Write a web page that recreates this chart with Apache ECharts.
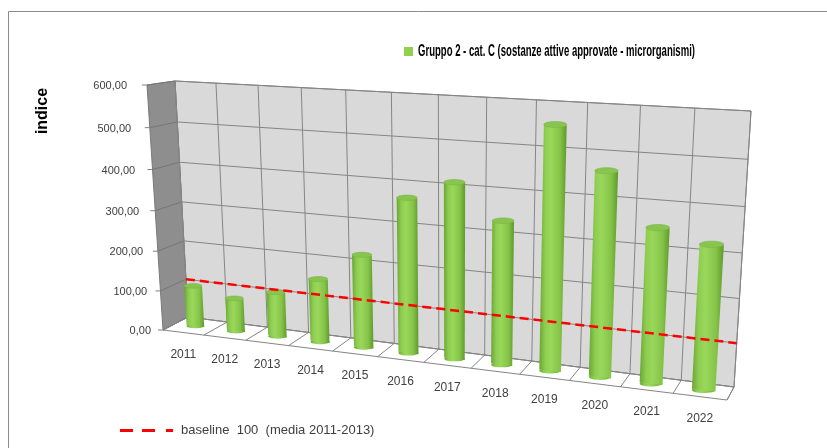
<!DOCTYPE html>
<html>
<head>
<meta charset="utf-8">
<script src="https://cdn.jsdelivr.net/npm/echarts@6/dist/echarts.min.js"></script>
<style>
  html, body { margin: 0; padding: 0; background: #ffffff; }
  #chart { width: 827px; height: 448px; }
</style>
</head>
<body>
<div id="chart"></div>
<script>
// ---- data ----
const categories = ['2011', '2012', '2013', '2014', '2015', '2016', '2017', '2018', '2019', '2020', '2021', '2022'];
const indexValues = [104, 84, 112, 156, 226, 370, 414, 336, 556, 464, 350, 324];
const baselineValue = 100;
const valueTicks = [0, 100, 200, 300, 400, 500, 600];
const seriesName = 'Gruppo 2 - cat. C (sostanze attive approvate - microrganismi)';
const baselineName = 'baseline  100  (media 2011-2013)';
const axisTitle = 'indice';

// ---- 3D box geometry (screen corners of the back wall and of the front plane) ----
const BACK_PLANE = { bl: [188, 317], br: [734, 387], tl: [175, 81], tr: [751, 111] };
const FRONT_PLANE = { bl: [163, 330], br: [727, 400], tl: [147, 85], tr: [744, 117] };
const BAR_RATIO = 0.44;   // cylinder diameter as share of a category slot
const BAR_DEPTH = 0.5;    // cylinders stand halfway between front and back

function solveHomography(dst) {
  const src = [[0, 0], [1, 0], [0, 1], [1, 1]];
  const pts = [dst.bl, dst.br, dst.tl, dst.tr];
  const A = [], b = [];
  for (let k = 0; k < 4; k++) {
    const [u, w] = src[k], [x, y] = pts[k];
    A.push([u, w, 1, 0, 0, 0, -u * x, -w * x]); b.push(x);
    A.push([0, 0, 0, u, w, 1, -u * y, -w * y]); b.push(y);
  }
  const n = 8;
  for (let c = 0; c < n; c++) {
    let p = c;
    for (let r = c + 1; r < n; r++) if (Math.abs(A[r][c]) > Math.abs(A[p][c])) p = r;
    [A[c], A[p]] = [A[p], A[c]]; [b[c], b[p]] = [b[p], b[c]];
    for (let r = 0; r < n; r++) {
      if (r === c) continue;
      const f = A[r][c] / A[c][c];
      for (let k = c; k < n; k++) A[r][k] -= f * A[c][k];
      b[r] -= f * b[c];
    }
  }
  const h = b.map((v, i) => v / A[i][i]);
  return (u, w) => {
    const den = h[6] * u + h[7] * w + 1;
    return [(h[0] * u + h[1] * w + h[2]) / den, (h[3] * u + h[4] * w + h[5]) / den];
  };
}
const backMap = solveHomography(BACK_PLANE);
const frontMap = solveHomography(FRONT_PLANE);
// u: 0..1 across categories, w: 0..1 along the value axis, d: 0 front .. 1 back
function project(u, w, d) {
  const f = frontMap(u, w), k = backMap(u, w);
  return [f[0] + (k[0] - f[0]) * d, f[1] + (k[1] - f[1]) * d];
}

// helpers turning the flat cartesian grid into normalised box coordinates
function boxScale(params, api) {
  const cs = params.coordSys;
  const band = api.size([1, 0])[0];
  return {
    uCenter: i => (api.coord([i, 0])[0] - cs.x) / cs.width,
    uEdge: k => (api.coord([Math.min(k, categories.length - 1), 0])[0] + (k < categories.length ? -band / 2 : band / 2) - cs.x) / cs.width,
    w: v => (cs.y + cs.height - api.coord([0, v])[1]) / cs.height,
    halfBar: band * BAR_RATIO / 2 / cs.width
  };
}

const GRID_STROKE = '#858585';
const LABEL_FONT = '"Liberation Sans", Arial, sans-serif';
const TITLE_FONT = '"Liberation Sans Narrow", "Liberation Sans", Arial, sans-serif';

function renderFrame(params, api) {
  const s = boxScale(params, api);
  const kids = [];
  const line = (a, b, stroke, width) => kids.push({
    type: 'line', shape: { x1: a[0], y1: a[1], x2: b[0], y2: b[1] },
    style: { stroke: stroke || GRID_STROKE, lineWidth: width || 1 }
  });
  const poly = (pts, fill, stroke) => kids.push({
    type: 'polygon', shape: { points: pts }, style: { fill, stroke: stroke || GRID_STROKE, lineWidth: 1 }
  });
  // walls and floor
  poly([project(0, 0, 1), project(1, 0, 1), project(1, 1, 1), project(0, 1, 1)], '#d9d9d9');
  poly([project(0, 0, 0), project(0, 0, 1), project(0, 1, 1), project(0, 1, 0)], '#8e8e8e', '#7a7a7a');
  poly([project(0, 0, 0), project(1, 0, 0), project(1, 0, 1), project(0, 0, 1)], '#ffffff');
  // value grid lines on back and side walls, ticks and labels
  valueTicks.forEach(v => {
    const w = s.w(v);
    line(project(0, w, 1), project(1, w, 1));
    line(project(0, w, 0), project(0, w, 1), '#767676');
    const e = project(0, w, 0);
    line([e[0] - 5, e[1]], e, '#808080');
    kids.push({
      type: 'text',
      style: {
        text: v.toFixed(2).replace('.', ','), x: e[0] - 12 - 8 * w, y: e[1] + 1,
        align: 'right', verticalAlign: 'middle', fill: '#404040',
        fontSize: 11, fontFamily: LABEL_FONT
      }
    });
  });
  // category separators on back wall and floor
  for (let k = 0; k <= categories.length; k++) {
    const u = s.uEdge(k);
    line(project(u, 0, 1), project(u, 1, 1));
    line(project(u, 0, 0), project(u, 0, 1));
  }
  // category labels along the front edge of the floor
  categories.forEach((c, i) => {
    const p = project(s.uCenter(i), 0, 0);
    kids.push({
      type: 'text',
      style: {
        text: c, x: p[0], y: p[1] + 22, align: 'center', verticalAlign: 'middle',
        fill: '#404040', fontSize: 12, fontFamily: LABEL_FONT
      }
    });
  });
  return { type: 'group', children: kids };
}

function renderCylinder(params, api) {
  const s = boxScale(params, api);
  const i = api.value(0), v = api.value(1);
  const uc = s.uCenter(i), r = s.halfBar, w = s.w(v), d = BAR_DEPTH;
  const bl = project(uc - r, 0, d), br = project(uc + r, 0, d);
  const tl = project(uc - r, w, d), tr = project(uc + r, w, d);
  const bc = project(uc, 0, d), tc = project(uc, w, d);
  const rxB = (br[0] - bl[0]) / 2, rxT = (tr[0] - tl[0]) / 2;
  const ryB = rxB * 0.26, ryT = rxT * 0.26;
  const bodyFill = new echarts.graphic.LinearGradient(0, 0, 1, 0, [
    { offset: 0, color: '#6aa633' },
    { offset: 0.22, color: '#8fcd52' },
    { offset: 0.42, color: '#9ad85c' },
    { offset: 0.75, color: '#86c449' },
    { offset: 1, color: '#5f9a2b' }
  ]);
  return {
    type: 'group',
    children: [
      { type: 'ellipse', shape: { cx: bc[0], cy: bc[1], rx: rxB, ry: ryB },
        style: { fill: bodyFill } },
      { type: 'polygon', shape: { points: [bl, br, tr, tl] }, style: { fill: bodyFill } },
      { type: 'ellipse', shape: { cx: tc[0], cy: tc[1], rx: rxT, ry: ryT },
        style: { fill: '#88c450', stroke: '#7bb541', lineWidth: 0.6 } }
    ]
  };
}

function renderBaseline(params, api) {
  const s = boxScale(params, api);
  const w = s.w(api.value(1));
  const a = project(0, w, 1), b = project(1, w, 1);
  return {
    type: 'line', shape: { x1: a[0], y1: a[1], x2: b[0], y2: b[1] },
    style: { stroke: '#ff0000', lineWidth: 2.5, lineDash: [9, 5] }
  };
}

// the series title is set in a compressed face: measure it and squeeze it to its slot
const TITLE_SIZE = 16;
const TITLE_WIDTH = 277;
const measureCtx = document.createElement('canvas').getContext('2d');
measureCtx.font = 'bold ' + TITLE_SIZE + 'px ' + TITLE_FONT;
const titleScaleX = Math.min(1, TITLE_WIDTH / measureCtx.measureText(seriesName).width);

const chart = echarts.init(document.getElementById('chart'), null, { renderer: 'canvas' });
chart.setOption({
  animation: false,
  backgroundColor: '#ffffff',
  grid: { left: 175, top: 81, width: 576, height: 236 },
  xAxis: { type: 'category', data: categories, show: false },
  yAxis: { type: 'value', min: 0, max: 600, interval: 100, show: false },
  legend: {
    data: [{ name: baselineName, icon: 'path://M0,0H13V3H0Z M22,0H35V3H22Z M46,0H53V3H46Z' }],
    left: 115, top: 419, itemWidth: 53, itemHeight: 3, selectedMode: false,
    textStyle: { fontFamily: LABEL_FONT, fontSize: 13, color: '#404040', padding: [0, 0, 0, 3] }
  },
  graphic: [
    { type: 'rect', shape: { x: 8.5, y: 11.5, width: 900, height: 500 },
      style: { fill: 'none', stroke: '#8c8c8c', lineWidth: 1 }, z: -1 },
    { type: 'rect', shape: { x: 404, y: 47, width: 9, height: 9 }, style: { fill: '#92d050' } },
    { type: 'text', x: 418, y: 52, scaleX: titleScaleX,
      style: { text: seriesName, fontSize: TITLE_SIZE, fontWeight: 'bold', fontFamily: TITLE_FONT,
               fill: '#000000', align: 'left', verticalAlign: 'middle' } },
    { type: 'text', x: 43, y: 111, rotation: Math.PI / 2,
      style: { text: axisTitle, fontSize: 16, fontWeight: 'bold', fontFamily: LABEL_FONT,
               fill: '#000000', align: 'center', verticalAlign: 'middle' } }
  ],
  series: [
    { type: 'custom', name: 'frame', renderItem: renderFrame, data: [[0, 0]], clip: false, z: 1, silent: true },
    { type: 'custom', name: seriesName, renderItem: renderCylinder, clip: false, z: 2,
      itemStyle: { color: '#92d050' },
      data: indexValues.map((v, i) => [i, v]) },
    { type: 'custom', name: baselineName, renderItem: renderBaseline, clip: false, z: 3,
      itemStyle: { color: '#ff0000' },
      data: [[0, baselineValue]] }
  ]
});
</script>
</body>
</html>
